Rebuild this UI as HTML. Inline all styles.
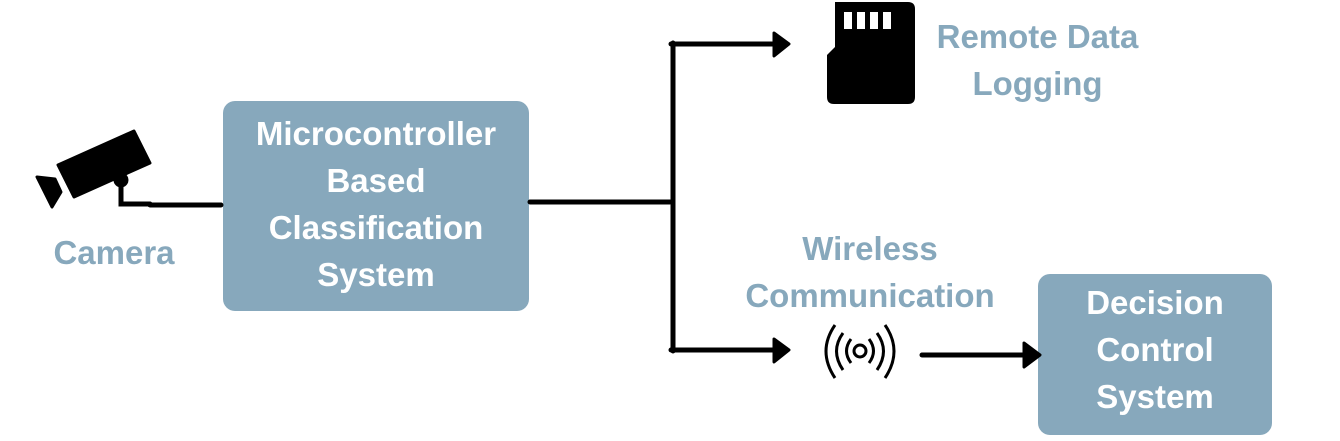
<!DOCTYPE html>
<html><head><style>
body{margin:0;width:1340px;height:441px;background:#fff;position:relative;overflow:hidden;font-family:"Liberation Sans",sans-serif}
.t{position:absolute;text-align:center;font-size:33px;line-height:47px;color:#87a8bc;white-space:nowrap;font-weight:bold}
.box{position:absolute;background:#87a8bc;border-radius:12px;color:#fff;text-align:center;font-size:33px;line-height:47px;font-weight:bold}
</style></head><body>
<div class="box" style="left:223px;top:101px;width:306px;height:210px;padding-top:9px;box-sizing:border-box">Microcontroller<br>Based<br>Classification<br>System</div>
<div class="box" style="left:1038px;top:274px;width:234px;height:161px;padding-top:5px;box-sizing:border-box">Decision<br>Control<br>System</div>
<div class="t" style="left:14px;top:229px;width:200px">Camera</div>
<div class="t" style="left:900px;top:13px;width:275px">Remote Data<br>Logging</div>
<div class="t" style="left:720px;top:225px;width:300px">Wireless<br>Communication</div>
<svg width="1340" height="441" style="position:absolute;left:0;top:0">
<g stroke="#000" stroke-width="5" fill="none" stroke-linecap="round">
<path d="M150 205H221"/>
<path d="M530 202H670"/>
<path d="M673 43V351"/>
<path d="M671 44H776"/>
<path d="M671 350H776"/>
<path d="M922 355H1027"/>
<path d="M121 180V204H150"/>
</g>
<g fill="#000" stroke="#000" stroke-linejoin="round" stroke-width="3">
<path d="M774 33L789 44L774 56Z"/>
<path d="M774 339L789 350L774 362Z"/>
<path d="M1024 343L1040 355L1024 367Z"/>
<polygon points="58,165 134,131 150,163 74,197"/>
<polygon points="37,177 55,179 61,192 52,207"/>
<circle cx="121" cy="180" r="6"/>
</g>
<g fill="#000">
<path d="M835 2H908Q915 2 915 9V97Q915 104 908 104H834Q827 104 827 97V55L835 47Z"/>
</g>
<g fill="#fff"><rect x="844" y="12" width="8" height="17"/><rect x="857" y="12" width="8" height="17"/><rect x="870" y="12" width="8" height="17"/><rect x="883" y="12" width="8" height="17"/></g>
<g stroke="#000" stroke-width="3" fill="none">
<circle cx="860" cy="351" r="6"/>
<path d="M851 339Q842 351 851 363M869 339Q878 351 869 363"/>
<path d="M843 333Q830 351 843 370M877 333Q890 351 877 370"/>
<path d="M835 325Q817 351 835 378M885 325Q903 351 885 378"/>
</g>
</svg>
</body></html>
